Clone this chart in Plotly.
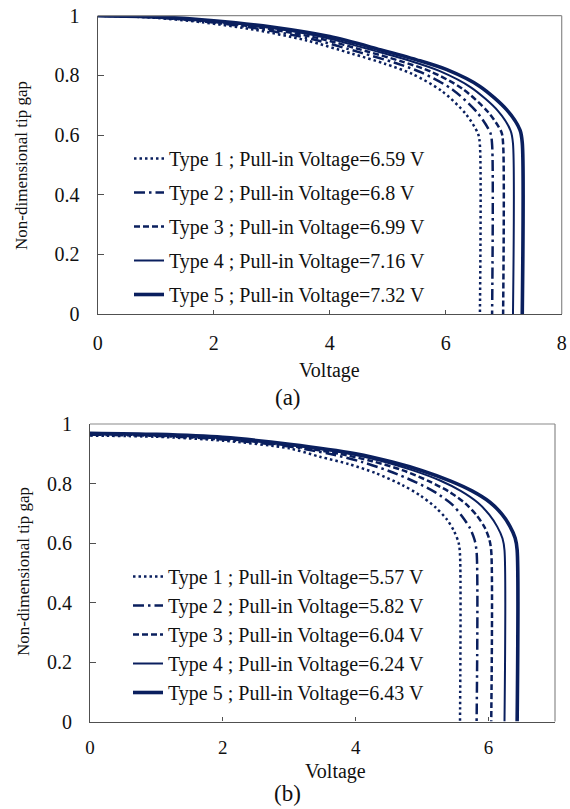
import plotly.graph_objects as go

# ---------------- data ----------------
# (a) upper panel
va1 = [0, 0.9, 1.8, 2.7, 3.6, 4.38, 4.95, 5.42, 5.93, 6.35, 6.56, 6.59, 6.59]
ga1 = [1.0, 0.994, 0.978, 0.953, 0.917, 0.873, 0.839, 0.805, 0.748, 0.67, 0.603, 0.565, 0.0]
va2 = [0, 0.93, 1.86, 2.79, 3.71, 4.52, 5.11, 5.59, 6.12, 6.55, 6.77, 6.8, 6.8]
ga2 = [1.0, 0.995, 0.98, 0.956, 0.921, 0.877, 0.843, 0.809, 0.752, 0.674, 0.607, 0.568, 0.0]
va3 = [0, 0.96, 1.91, 2.87, 3.82, 4.65, 5.25, 5.75, 6.29, 6.73, 6.96, 6.99, 6.99]
ga3 = [1.0, 0.995, 0.981, 0.958, 0.924, 0.88, 0.846, 0.812, 0.755, 0.677, 0.61, 0.57, 0.0]
va4 = [0, 0.98, 1.95, 2.94, 3.91, 4.76, 5.38, 5.89, 6.44, 6.9, 7.12, 7.16, 7.16]
ga4 = [1.0, 0.996, 0.982, 0.96, 0.927, 0.883, 0.849, 0.815, 0.759, 0.681, 0.614, 0.572, 0.0]
va5 = [0, 1.0, 2.0, 3.0, 4.0, 4.87, 5.5, 6.02, 6.59, 7.05, 7.28, 7.32, 7.32]
ga5 = [1.0, 0.996, 0.983, 0.962, 0.93, 0.886, 0.852, 0.819, 0.763, 0.685, 0.617, 0.574, 0.0]
pull_in_a = ["6.59", "6.8", "6.99", "7.16", "7.32"]

# (b) lower panel
vb1 = [0, 1, 2, 3, 3.46, 3.9, 4.3, 4.7, 4.97, 5.2, 5.37, 5.48, 5.55, 5.57, 5.57]
gb1 = [0.961, 0.957, 0.944, 0.918, 0.89, 0.865, 0.835, 0.795, 0.76, 0.72, 0.68, 0.64, 0.6, 0.56, 0.0]
vb2 = [0, 1, 2, 3, 3.6, 4.1, 4.5, 4.9, 5.2, 5.45, 5.6, 5.72, 5.79, 5.82, 5.82]
gb2 = [0.964, 0.96, 0.948, 0.924, 0.9, 0.872, 0.842, 0.805, 0.77, 0.73, 0.69, 0.65, 0.61, 0.57, 0.0]
vb3 = [0, 1, 2, 3, 3.75, 4.25, 4.7, 5.1, 5.4, 5.65, 5.82, 5.94, 6.01, 6.04, 6.04]
gb3 = [0.966, 0.962, 0.951, 0.927, 0.9, 0.875, 0.845, 0.808, 0.773, 0.733, 0.693, 0.653, 0.613, 0.573, 0.0]
vb4 = [0, 1, 2, 3, 3.9, 4.4, 4.85, 5.27, 5.58, 5.84, 6.01, 6.13, 6.21, 6.24, 6.24]
gb4 = [0.968, 0.964, 0.953, 0.929, 0.9, 0.875, 0.845, 0.81, 0.775, 0.735, 0.695, 0.655, 0.615, 0.575, 0.0]
vb5 = [0, 1, 2, 3, 4.0, 4.55, 5.0, 5.43, 5.75, 6.02, 6.2, 6.32, 6.4, 6.43, 6.43]
gb5 = [0.969, 0.965, 0.955, 0.932, 0.9, 0.872, 0.843, 0.808, 0.775, 0.737, 0.697, 0.657, 0.617, 0.577, 0.0]
pull_in_b = ["5.57", "5.82", "6.04", "6.24", "6.43"]

type_names = ["Type 1", "Type 2", "Type 3", "Type 4", "Type 5"]
xticks_a = [0, 2, 4, 6, 8]
xticks_b = [0, 2, 4, 6]
yticks = [0, 0.2, 0.4, 0.6, 0.8, 1]
ytick_text = ["0", "0.2", "0.4", "0.6", "0.8", "1"]

# ---------------- styling ----------------
W, H = 570, 809
NAVY = "#0a1f5e"
FONT = "Liberation Serif"
styles = [
    dict(width=2.5, dash="2.5px,3px"),
    dict(width=2.5, dash="11px,4px,2.5px,4px"),
    dict(width=2.5, dash="6px,3px"),
    dict(width=2.0, dash="solid"),
    dict(width=3.6, dash="solid"),
]


def px_x(p):
    return p / W


def px_y(p):
    return 1 - p / H


fig = go.Figure()

A = [(va1, ga1), (va2, ga2), (va3, ga3), (va4, ga4), (va5, ga5)]
B = [(vb1, gb1), (vb2, gb2), (vb3, gb3), (vb4, gb4), (vb5, gb5)]

for i, (v, g) in enumerate(A):
    fig.add_trace(go.Scatter(
        x=v, y=g, mode="lines", xaxis="x", yaxis="y",
        line=dict(color=NAVY, shape="spline", smoothing=0.8, **styles[i]),
        name=f"{type_names[i]} ; Pull-in Voltage={pull_in_a[i]} V",
        legend="legend", legendgroup=f"a{i}",
    ))
for i, (v, g) in enumerate(B):
    fig.add_trace(go.Scatter(
        x=v, y=g, mode="lines", xaxis="x2", yaxis="y2",
        line=dict(color=NAVY, shape="spline", smoothing=0.8, **styles[i]),
        name=f"{type_names[i]} ; Pull-in Voltage={pull_in_b[i]} V",
        legend="legend2",
    ))


def axis_common(size):
    return dict(
        showline=True, linecolor="#505050", linewidth=1.2, mirror=False,
        showgrid=False, zeroline=False, ticks="inside", tickcolor="#505050",
        tickfont=dict(family=FONT, size=size, color="#111"),
    )


top = dict(l=97.7, r=561.7, t=15.7, b=314)
bot = dict(l=90, r=555, t=424, b=721.5)

fig.update_layout(
    width=W, height=H,
    margin=dict(l=0, r=0, t=0, b=0, autoexpand=False),
    paper_bgcolor="white", plot_bgcolor="white",
    font=dict(family=FONT, color="#111"),
    xaxis=dict(domain=[px_x(top["l"]), px_x(top["r"])], range=[0, 8], tickvals=xticks_a,
               anchor="y", ticklen=4, ticklabelstandoff=11, **axis_common(20)),
    yaxis=dict(domain=[px_y(top["b"]), px_y(top["t"])], range=[0, 1], tickvals=yticks,
               ticktext=ytick_text, anchor="x", ticklen=6, ticklabelstandoff=13, **axis_common(20)),
    xaxis2=dict(domain=[px_x(bot["l"]), px_x(bot["r"])], range=[0, 7], tickvals=xticks_b,
                anchor="y2", ticklen=4, ticklabelstandoff=9, **axis_common(19)),
    yaxis2=dict(domain=[px_y(bot["b"]), px_y(bot["t"])], range=[0, 1], tickvals=yticks,
                ticktext=ytick_text, anchor="x2", ticklen=6, ticklabelstandoff=13, **axis_common(20)),
    legend=dict(x=px_x(129), y=px_y(139), xanchor="left", yanchor="top",
                bgcolor="rgba(0,0,0,0)", font=dict(family=FONT, size=20, color="#111"),
                tracegroupgap=5, traceorder="grouped"),
    legend2=dict(x=px_x(128), y=px_y(557), xanchor="left", yanchor="top",
                 bgcolor="rgba(0,0,0,0)", font=dict(family=FONT, size=20, color="#111")),
    showlegend=True,
)

# light top/right borders of both plot areas
for box in (top, bot):
    fig.add_shape(type="line", xref="paper", yref="paper",
                  x0=px_x(box["l"]), x1=px_x(box["r"]), y0=px_y(box["t"]), y1=px_y(box["t"]),
                  line=dict(color="#8a8a8a", width=1.2))
    fig.add_shape(type="line", xref="paper", yref="paper",
                  x0=px_x(box["r"]), x1=px_x(box["r"]), y0=px_y(box["t"]), y1=px_y(box["b"]),
                  line=dict(color="#8a8a8a", width=1.2))

ann = [
    ("Voltage", 329, 370, 20, 0),
    ("(a)", 288, 397, 23, 0),
    ("Voltage", 335, 771, 20, 0),
    ("(b)", 287, 793, 23, 0),
    ("Non-dimensional tip gap", 22, 166, 17, -90),
    ("Non-dimensional tip gap", 23, 572, 17, -90),
]
for text, x, y, size, ang in ann:
    fig.add_annotation(text=text, x=px_x(x), y=px_y(y), xref="paper", yref="paper",
                       showarrow=False, textangle=ang, xanchor="center", yanchor="middle",
                       font=dict(family=FONT, size=size, color="#111"))

fig.write_html("out.html", config={"displayModeBar": False},
               post_script="document.body.style.margin='0';")
